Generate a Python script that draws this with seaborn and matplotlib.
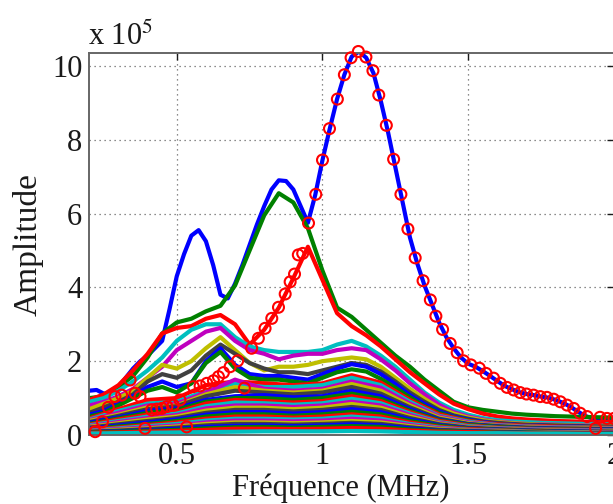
import numpy as np
import pandas as pd
import matplotlib
matplotlib.use('Agg')
import matplotlib.pyplot as plt
import seaborn as sns

# Amplitude spectra (units of 1e5) vs frequency (MHz)
freq_fine = np.linspace(0.2, 2.0, 73)    # step 0.025
freq_mid = np.linspace(0.2, 2.0, 37)     # step 0.05
freq_coarse = np.linspace(0.2, 2.0, 19)  # step 0.1

amp_01 = [1.20, 1.22, 1.12, 1.15, 1.30, 1.55, 1.80, 2.00, 2.15, 2.35,
          2.55, 3.40, 4.30, 4.90, 5.40, 5.55, 5.25, 4.60, 3.80, 3.70,
          4.10, 4.60, 5.15, 5.70, 6.20, 6.65, 6.90, 6.88, 6.65, 6.20,
          5.75, 6.50, 7.45, 8.30, 9.10, 9.76, 10.25, 10.39, 10.22, 9.80,
          9.05, 8.20, 7.25, 6.30, 5.35, 4.65, 4.05, 3.55, 3.05, 2.65,
          2.35, 2.10, 1.93, 1.85, 1.73, 1.60, 1.46, 1.33, 1.24, 1.16,
          1.11, 1.08, 1.04, 1.01, 0.95, 0.87, 0.77, 0.64, 0.52, 0.45,
          0.42, 0.42, 0.42]

amp_02 = [1.00, 1.05, 1.30, 1.60, 2.10, 2.75, 3.05, 3.15, 3.35, 3.50,
          4.05, 5.00, 5.95, 6.55, 6.30, 5.60, 4.45, 3.45, 3.20, 2.85,
          2.50, 2.15, 1.85, 1.50, 1.20, 0.90, 0.75, 0.68, 0.63, 0.58,
          0.55, 0.53, 0.51, 0.50, 0.49, 0.48, 0.47]
amp_03 = [0.95, 1.10, 1.35, 1.75, 2.20, 2.75, 2.90, 2.95, 3.15, 3.25,
          3.00, 2.45, 2.85, 3.45, 4.25, 5.10, 4.20, 3.30, 2.95, 2.70,
          2.40, 2.05, 1.70, 1.40, 1.10, 0.85, 0.70, 0.58, 0.50, 0.45,
          0.42, 0.40, 0.38, 0.37, 0.36, 0.35, 0.35]
amp_04 = [0.90, 1.00, 1.20, 1.45, 1.75, 2.10, 2.55, 2.85, 3.00, 3.00,
          2.65, 2.40, 2.30, 2.25, 2.25, 2.25, 2.30, 2.45, 2.55, 2.40,
          2.15, 1.85, 1.50, 1.15, 0.88, 0.68, 0.55, 0.46, 0.40, 0.37,
          0.35, 0.33, 0.32, 0.31, 0.30, 0.30, 0.29]
amp_05 = [0.80, 0.90, 1.05, 1.25, 1.55, 1.85, 2.30, 2.55, 2.80, 2.90,
          2.55, 2.30, 2.20, 2.05, 2.15, 2.20, 2.20, 2.30, 2.35, 2.30,
          2.05, 1.75, 1.40, 1.10, 0.82, 0.62, 0.50, 0.42, 0.36, 0.33,
          0.30, 0.29, 0.28, 0.27, 0.26, 0.26, 0.25]
amp_06 = [0.70, 0.85, 1.00, 1.20, 1.55, 1.90, 1.80, 2.00, 2.35, 2.65,
          2.30, 1.95, 1.75, 1.85, 1.85, 1.90, 2.00, 2.05, 2.10, 2.05,
          1.85, 1.55, 1.25, 0.98, 0.74, 0.58, 0.47, 0.40, 0.35, 0.32,
          0.30, 0.28, 0.27, 0.26, 0.25, 0.25, 0.24]
amp_07 = [0.60, 0.75, 0.90, 1.10, 1.45, 1.65, 1.55, 1.75, 2.15, 2.45,
          2.20, 1.95, 1.80, 1.70, 1.70, 1.65, 1.75, 1.85, 1.95, 1.90,
          1.72, 1.45, 1.15, 0.90, 0.68, 0.53, 0.44, 0.37, 0.33, 0.30,
          0.28, 0.27, 0.26, 0.25, 0.24, 0.23, 0.23]
amp_08 = [0.55, 0.65, 0.85, 1.05, 1.30, 1.45, 1.30, 1.40, 2.00, 2.35,
          1.90, 1.65, 1.60, 1.60, 1.55, 1.50, 1.65, 1.80, 1.92, 1.85,
          1.65, 1.38, 1.08, 0.84, 0.64, 0.50, 0.42, 0.35, 0.30, 0.28,
          0.26, 0.25, 0.24, 0.23, 0.22, 0.22, 0.21]
amp_09 = [0.50, 0.60, 0.80, 1.00, 1.20, 1.30, 1.15, 1.40, 1.95, 2.25,
          1.80, 1.55, 1.50, 1.50, 1.45, 1.40, 1.55, 1.70, 1.78, 1.72,
          1.52, 1.28, 1.02, 0.78, 0.60, 0.48, 0.40, 0.33, 0.29, 0.27,
          0.25, 0.24, 0.23, 0.22, 0.21, 0.21, 0.20]

amp_10 = [0.45, 0.70, 0.95, 1.00, 1.35, 1.45, 1.40, 1.35, 1.40, 1.62, 1.42, 0.95, 0.56, 0.38, 0.29, 0.25, 0.23, 0.21, 0.20]
amp_11 = [0.42, 0.65, 0.85, 0.90, 1.20, 1.40, 1.30, 1.30, 1.35, 1.55, 1.35, 0.90, 0.52, 0.36, 0.27, 0.23, 0.21, 0.20, 0.19]
amp_12 = [0.40, 0.60, 0.80, 0.85, 1.15, 1.50, 1.25, 1.20, 1.25, 1.45, 1.28, 0.85, 0.50, 0.34, 0.26, 0.22, 0.20, 0.19, 0.18]
amp_13 = [0.38, 0.55, 0.75, 0.80, 1.10, 1.30, 1.20, 1.15, 1.20, 1.38, 1.20, 0.80, 0.47, 0.32, 0.25, 0.21, 0.19, 0.18, 0.17]
amp_14 = [0.35, 0.52, 0.70, 0.78, 1.05, 1.20, 1.15, 1.10, 1.15, 1.30, 1.12, 0.75, 0.44, 0.30, 0.24, 0.20, 0.18, 0.17, 0.16]
amp_15 = [0.33, 0.48, 0.65, 0.72, 0.95, 1.05, 1.08, 1.02, 1.05, 1.20, 1.05, 0.70, 0.42, 0.29, 0.23, 0.19, 0.17, 0.16, 0.15]
amp_16 = [0.30, 0.45, 0.60, 0.68, 0.90, 1.00, 1.00, 0.95, 1.00, 1.12, 0.98, 0.66, 0.40, 0.28, 0.22, 0.18, 0.16, 0.15, 0.14]
amp_17 = [0.28, 0.42, 0.55, 0.62, 0.85, 0.95, 0.92, 0.88, 0.92, 1.05, 0.92, 0.62, 0.38, 0.26, 0.20, 0.17, 0.15, 0.14, 0.13]
amp_18 = [0.26, 0.38, 0.50, 0.58, 0.78, 0.88, 0.86, 0.82, 0.86, 0.98, 0.86, 0.58, 0.35, 0.24, 0.19, 0.16, 0.14, 0.13, 0.12]
amp_19 = [0.24, 0.35, 0.46, 0.54, 0.72, 0.80, 0.80, 0.76, 0.80, 0.90, 0.80, 0.54, 0.33, 0.22, 0.18, 0.15, 0.13, 0.12, 0.11]
amp_20 = [0.22, 0.32, 0.42, 0.50, 0.66, 0.74, 0.74, 0.70, 0.74, 0.84, 0.74, 0.50, 0.31, 0.21, 0.17, 0.14, 0.12, 0.11, 0.10]
amp_21 = [0.20, 0.29, 0.38, 0.46, 0.60, 0.68, 0.68, 0.64, 0.68, 0.76, 0.68, 0.46, 0.29, 0.20, 0.16, 0.13, 0.11, 0.10, 0.09]
amp_22 = [0.18, 0.26, 0.34, 0.42, 0.55, 0.62, 0.62, 0.58, 0.62, 0.70, 0.62, 0.42, 0.27, 0.18, 0.15, 0.12, 0.10, 0.09, 0.08]
amp_23 = [0.16, 0.23, 0.30, 0.38, 0.50, 0.56, 0.56, 0.52, 0.56, 0.63, 0.56, 0.38, 0.25, 0.17, 0.14, 0.11, 0.09, 0.08, 0.07]
amp_24 = [0.14, 0.20, 0.27, 0.34, 0.44, 0.50, 0.50, 0.47, 0.50, 0.56, 0.50, 0.34, 0.22, 0.16, 0.13, 0.10, 0.08, 0.07, 0.07]
amp_25 = [0.12, 0.18, 0.24, 0.30, 0.39, 0.44, 0.44, 0.42, 0.44, 0.50, 0.44, 0.30, 0.20, 0.14, 0.12, 0.09, 0.07, 0.07, 0.06]
amp_26 = [0.11, 0.16, 0.21, 0.26, 0.34, 0.39, 0.39, 0.37, 0.39, 0.44, 0.39, 0.27, 0.18, 0.13, 0.11, 0.08, 0.07, 0.06, 0.06]
amp_27 = [0.10, 0.14, 0.18, 0.23, 0.30, 0.34, 0.34, 0.32, 0.34, 0.38, 0.34, 0.24, 0.16, 0.12, 0.10, 0.08, 0.06, 0.06, 0.05]
amp_28 = [0.09, 0.12, 0.16, 0.20, 0.26, 0.30, 0.30, 0.28, 0.30, 0.33, 0.30, 0.21, 0.14, 0.11, 0.09, 0.07, 0.06, 0.05, 0.05]
amp_29 = [0.08, 0.10, 0.13, 0.17, 0.22, 0.25, 0.26, 0.24, 0.26, 0.29, 0.26, 0.18, 0.12, 0.10, 0.08, 0.06, 0.05, 0.05, 0.04]
amp_30 = [0.07, 0.09, 0.11, 0.14, 0.18, 0.21, 0.22, 0.20, 0.22, 0.24, 0.22, 0.15, 0.11, 0.09, 0.07, 0.06, 0.05, 0.04, 0.04]
amp_31 = [0.06, 0.07, 0.09, 0.11, 0.14, 0.17, 0.17, 0.16, 0.17, 0.19, 0.17, 0.12, 0.09, 0.08, 0.06, 0.05, 0.04, 0.04, 0.03]
amp_32 = [0.04, 0.05, 0.06, 0.07, 0.08, 0.09, 0.10, 0.10, 0.10, 0.11, 0.10, 0.08, 0.06, 0.05, 0.05, 0.04, 0.04, 0.03, 0.03]

# red circles (tracked maximum)
ring_f = [0.220, 0.245, 0.265, 0.288, 0.311, 0.340, 0.357, 0.374, 0.391, 0.414,
          0.431, 0.449, 0.466, 0.488, 0.511, 0.534, 0.557, 0.580, 0.603, 0.626,
          0.643, 0.660, 0.683, 0.709, 0.732, 0.757, 0.780, 0.803, 0.826, 0.849,
          0.872, 0.889, 0.904, 0.917, 0.932, 0.952, 0.977, 1.000, 1.024, 1.051,
          1.075, 1.098, 1.123, 1.149, 1.173, 1.193, 1.219, 1.244, 1.269, 1.293,
          1.318, 1.345, 1.370, 1.389, 1.412, 1.438, 1.462, 1.484, 1.509, 1.538,
          1.561, 1.587, 1.610, 1.633, 1.656, 1.678, 1.700, 1.724, 1.747, 1.770,
          1.793, 1.816, 1.839, 1.862, 1.884, 1.908, 1.937, 1.952, 1.976, 2.000]
ring_a = [0.09, 0.36, 0.75, 1.04, 1.08, 1.49, 1.13, 1.04, 0.18, 0.68,
          0.70, 0.72, 0.77, 0.81, 0.95, 0.22, 1.31, 1.33, 1.40, 1.47,
          1.58, 1.69, 1.85, 2.01, 1.27, 2.35, 2.62, 2.89, 3.16, 3.46,
          3.82, 4.15, 4.36, 4.88, 4.92, 5.74, 6.52, 7.45, 8.30, 9.10,
          9.76, 10.22, 10.39, 10.24, 9.87, 9.21, 8.39, 7.47, 6.52, 5.58,
          4.80, 4.18, 3.66, 3.22, 2.86, 2.48, 2.23, 2.01, 1.90, 1.81,
          1.67, 1.54, 1.40, 1.29, 1.22, 1.15, 1.11, 1.08, 1.04, 1.02,
          0.97, 0.90, 0.81, 0.72, 0.59, 0.50, 0.18, 0.48, 0.45, 0.45]

curves = [amp_01, amp_02, amp_03, amp_04, amp_05, amp_06, amp_07, amp_08,
          amp_09, amp_10, amp_11, amp_12, amp_13, amp_14, amp_15, amp_16,
          amp_17, amp_18, amp_19, amp_20, amp_21, amp_22, amp_23, amp_24,
          amp_25, amp_26, amp_27, amp_28, amp_29, amp_30, amp_31, amp_32]
grids = [freq_fine] + [freq_mid] * 8 + [freq_coarse] * 23

# old MATLAB line colour order
matlab_cycle = [(0, 0, 1), (0, 0.5, 0), (1, 0, 0), (0, 0.75, 0.75),
                (0.75, 0, 0.75), (0.75, 0.75, 0), (0.25, 0.25, 0.25)]

rows = []
for i, (f, a) in enumerate(zip(grids, curves)):
    rows += [(f's{i:02d}', x, y) for x, y in zip(f, a)]
df = pd.DataFrame(rows, columns=['curve', 'freq', 'amp'])
names = [f's{i:02d}' for i in range(len(curves))]
pal = {n: matlab_cycle[i % 7] for i, n in enumerate(names)}

sns.set_theme(style='white')
plt.rcParams['font.family'] = ['Liberation Serif', 'DejaVu Serif']
plt.rcParams['mathtext.fontset'] = 'stix'

fig = plt.figure(figsize=(6.13, 5.04), dpi=100)
ax = fig.add_axes([0.1457, 0.1369, 0.8559, 0.7573])

sns.lineplot(data=df, x='freq', y='amp', hue='curve', hue_order=names,
             palette=pal, estimator=None, legend=False, lw=3.0, ax=ax)
sns.scatterplot(x=ring_f, y=ring_a, marker='o', s=62, color='red',
                facecolors='none', edgecolors='red', linewidth=1.5,
                clip_on=False, zorder=5, legend=False, ax=ax)

ax.set_xlim(0.2, 2.0)
ax.set_ylim(0, 10.34)
ax.set_xticks([0.5, 1, 1.5, 2])
ax.set_xticklabels(['0.5', '1', '1.5', '2'])
ax.set_yticks([0, 2, 4, 6, 8, 10])
ax.set_yticklabels(['0', '2', '4', '6', '8', '10'])
ax.grid(True, linestyle=(0, (1, 3)), color='0.4', linewidth=0.9)
ax.set_axisbelow(True)
ax.tick_params(direction='in', top=True, right=True, length=5, width=1,
               labelsize=22, colors='0.1', pad=5)
for sp in ax.spines.values():
    sp.set_color('0.4')
    sp.set_linewidth(1.4)

ax.set_xlabel('Fréquence (MHz)', fontsize=22, color='0.1')
ax.set_ylabel('Amplitude', fontsize=24, color='0.1')
ax.xaxis.set_label_coords(0.48, -0.10)
ax.yaxis.set_label_coords(-0.088, 0.5)
fig.text(0.1436, 0.911, r'x 10$^{5}$', fontsize=22, color='0.1', va='baseline')

fig.savefig('out.png', dpi=100)
